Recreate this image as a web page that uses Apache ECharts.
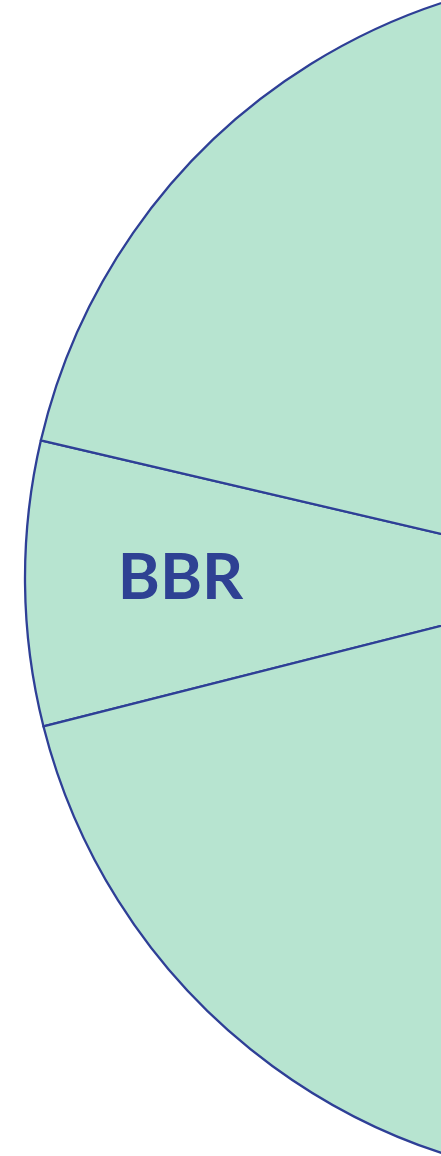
<!DOCTYPE html>
<html>
<head>
<meta charset="utf-8">
<script src="https://cdn.jsdelivr.net/npm/echarts@6/dist/echarts.min.js"></script>
<style>
  html, body { margin: 0; padding: 0; background: #fff; }
  #chart { width: 441px; height: 1156px; }
</style>
</head>
<body>
<div id="chart"></div>
<script>
// slices, only BBR is visible in the cropped view
const names = ['BBR', 'CUBIC', 'Other'];
const values = [7.6, 62.4, 30];
const labelled = ['BBR'];

const chart = echarts.init(document.getElementById('chart'), null, { renderer: 'canvas' });

const data = names.map((n, i) => ({
    name: n,
    value: values[i],
    label: { show: labelled.includes(n) }
}));

chart.setOption({
    animation: false,
    series: [{
        type: 'pie',
        center: [630, 578],
        radius: 605,
        startAngle: 194.2,
        clockwise: true,
        avoidLabelOverlap: false,
        itemStyle: {
            color: '#b7e4d0',
            borderColor: '#2e3f96',
            borderWidth: 2.3
        },
        label: {
            position: 'inside',
            formatter: '{b}',
            color: '#2e4193',
            fontFamily: 'Lato',
            fontWeight: 'bold',
            fontSize: 64,
            offset: [-144, -2]
        },
        labelLine: { show: false },
        emphasis: { disabled: true },
        data: data
    }]
});
</script>
</body>
</html>
